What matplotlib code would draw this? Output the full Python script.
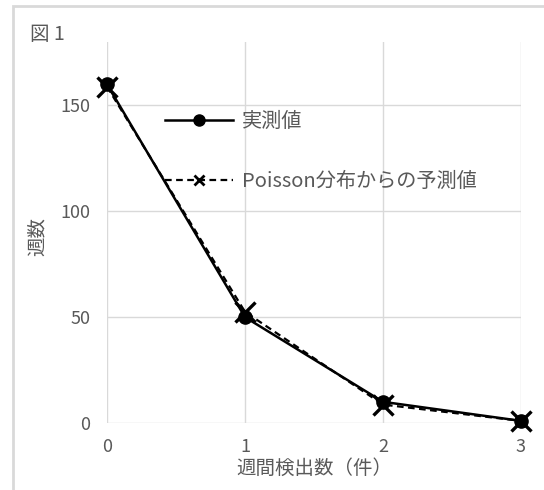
import matplotlib
matplotlib.use("Agg")
import matplotlib.pyplot as plt
from matplotlib.lines import Line2D
from matplotlib.patches import Rectangle

plt.rcParams['font.family'] = ['Noto Sans CJK JP', 'DejaVu Sans']

# weekly detection counts
counts = [0, 1, 2, 3]
observed = [160, 50, 10, 1]
# Poisson expectation
predicted = [158.9, 52.5, 8.7, 1.0]

label_obs = "実測値"
label_pred = "Poisson分布からの予測値"
xlabel = "週間検出数（件）"
ylabel = "週数"
title = "図 1"

text_gray = "#595959"
grid_gray = "#d9d9d9"

fig = plt.figure(figsize=(5.44, 4.90), dpi=100)
ax = fig.add_axes([107/544, 1 - 423/490, (521 - 107)/544, (423 - 42)/490])

ax.plot(counts, predicted, color="black", lw=1.6, ls=(0, (3, 2)),
        marker="x", ms=14, mew=2.4, clip_on=False, zorder=3)
ax.plot(counts, observed, color="black", lw=1.8,
        marker="o", ms=9.5, clip_on=False, zorder=4)

ax.set_xlim(0, 3)
ax.set_ylim(0, 180)
ax.set_xticks(counts)
ax.set_yticks([0, 50, 100, 150])
ax.grid(True, color=grid_gray, lw=1)
ax.set_axisbelow(True)
for s in ax.spines.values():
    s.set_visible(False)
ax.tick_params(length=0, labelsize=13, labelcolor=text_gray)
ax.tick_params(axis="y", pad=12)
ax.tick_params(axis="x", pad=11)

fig.text(314/544, 1 - 468/490, xlabel, ha="center", va="center",
         fontsize=14, color=text_gray)
fig.text(37/544, 1 - 237/490, ylabel, ha="center", va="center",
         rotation=90, fontsize=14, color=text_gray)
fig.text(30/544, 1 - 34/490, title, ha="left", va="center",
         fontsize=14, color=text_gray)

handles = [
    Line2D([], [], color="black", lw=1.8, marker="o", ms=8),
    Line2D([], [], color="black", lw=1.6, ls=(0, (3, 2)), marker="x",
           ms=7, mew=2),
]
fig.legend(handles, [label_obs, label_pred], loc="upper left",
           bbox_to_anchor=(165/544, 1 - 111/490), frameon=False,
           fontsize=14.5, labelcolor=text_gray, handlelength=3.4,
           handletextpad=0.4, labelspacing=1.95, borderpad=0,
           borderaxespad=0, numpoints=1)

fig.patches.append(Rectangle((13/544, -0.05), 1.1, 1 - 6/490 + 0.05,
                             transform=fig.transFigure, fill=False,
                             edgecolor=grid_gray, lw=2))

fig.savefig("out.png", dpi=100)
